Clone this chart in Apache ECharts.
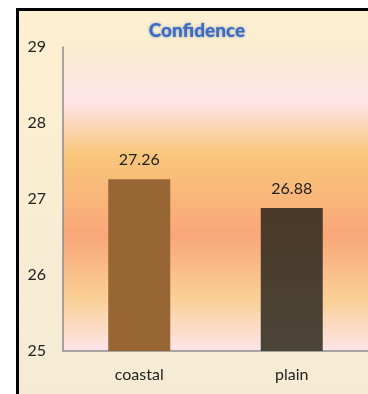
<!DOCTYPE html>
<html>
<head>
<meta charset="utf-8">
<script src="https://cdn.jsdelivr.net/npm/echarts@6/dist/echarts.min.js"></script>
<style>
  html, body { margin: 0; padding: 0; width: 100%; height: 100%; overflow: hidden; background: #fff; }
  #frame {
    position: fixed; left: 16px; top: 8px; right: -30px; bottom: -30px;
    border-left: 3px solid #000;
    border-top: 3px solid #000;
    background: linear-gradient(to bottom, #FDEFD0 0px, #F5EBD5 383px);
  }
  #chart { position: fixed; left: 0; top: 0; width: 368px; height: 394px; }
</style>
</head>
<body>
<div id="frame"></div>
<div id="chart"></div>
<script>
  const categories = ['coastal', 'plain'];
  const values = [27.26, 26.88];
  const yTicks = [25, 26, 27, 28, 29];

  const fontFamily = 'Lato, "Open Sans", sans-serif';

  const chart = echarts.init(document.getElementById('chart'));

  // 柱子颜色
  const barColors = [
    '#986535',
    new echarts.graphic.LinearGradient(0, 0, 0, 1, [
      { offset: 0, color: '#4A3826' },
      { offset: 1, color: '#4B4538' }
    ])
  ];

  const plotBg = new echarts.graphic.LinearGradient(0, 0, 0, 1, [
    { offset: 0, color: '#FAEBD0' },
    { offset: 0.18, color: '#FDE4E8' },
    { offset: 0.355, color: '#F9C67A' },
    { offset: 0.62, color: '#F9A77A' },
    { offset: 0.83, color: '#FAD096' },
    { offset: 1, color: '#FDE4EA' }
  ]);

  const option = {
    animation: false,
    title: {
      text: 'Confidence',
      left: 192,
      textAlign: 'center',
      top: 16,
      textStyle: {
        fontFamily: fontFamily,
        fontSize: 19,
        fontWeight: 900,
        color: '#3B6CC2',
        textShadowColor: 'rgba(40,80,170,0.55)',
        textShadowBlur: 3
      }
    },
    grid: {
      left: 63,
      top: 47,
      width: 313,
      height: 304,
      show: true,
      borderWidth: 0,
      backgroundColor: plotBg
    },
    xAxis: {
      type: 'category',
      data: categories,
      axisLine: { lineStyle: { color: '#8C8C8C', width: 1.5 } },
      axisTick: { show: false },
      axisLabel: { margin: 16, color: '#222', fontSize: 16, fontFamily: fontFamily }
    },
    yAxis: {
      type: 'value',
      min: yTicks[0],
      max: yTicks[yTicks.length - 1],
      interval: 1,
      axisLine: { show: true, lineStyle: { color: '#8C8C8C', width: 1.5 } },
      axisTick: { show: false },
      splitLine: { show: false },
      axisLabel: { margin: 17, color: '#222', fontSize: 16, fontFamily: fontFamily }
    },
    series: [{
      type: 'bar',
      barWidth: 62,
      data: values.map((v, i) => ({ value: v, itemStyle: { color: barColors[i] } })),
      label: {
        show: true,
        position: 'top',
        distance: 11,
        color: '#222',
        fontSize: 16,
        fontFamily: fontFamily,
        formatter: p => p.value.toFixed(2)
      }
    }]
  };

  chart.setOption(option);
</script>
</body>
</html>
